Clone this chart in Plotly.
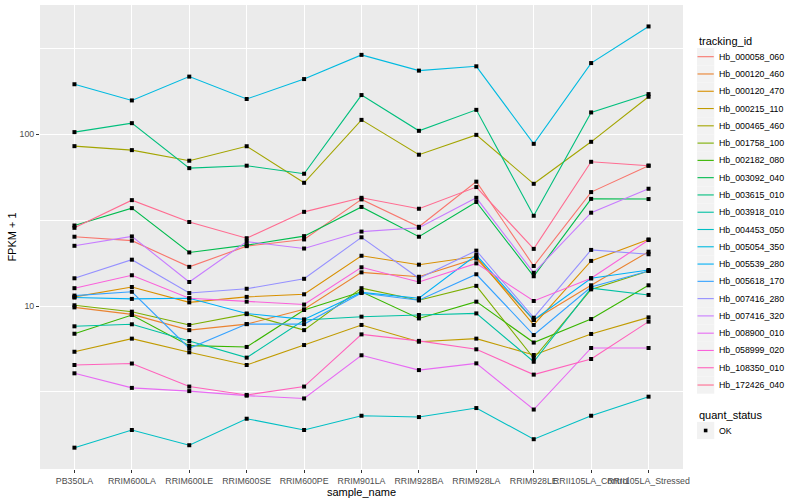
import plotly.graph_objects as go

samples = ["PB350LA", "RRIM600LA", "RRIM600LE", "RRIM600SE", "RRIM600PE", "RRIM901LA",
           "RRIM928BA", "RRIM928LA", "RRIM928LE", "RRII105LA_Control", "RRII105LA_Stressed"]

tracking_ids = ["Hb_000058_060", "Hb_000120_460", "Hb_000120_470", "Hb_000215_110", "Hb_000465_460",
                "Hb_001758_100", "Hb_002182_080", "Hb_003092_040", "Hb_003615_010", "Hb_003918_010",
                "Hb_004453_050", "Hb_005054_350", "Hb_005539_280", "Hb_005618_170", "Hb_007416_280",
                "Hb_007416_320", "Hb_008900_010", "Hb_058999_020", "Hb_108350_010", "Hb_172426_040"]

colors = ["#F8766D", "#EA8331", "#D89000", "#C09B00", "#A3A500", "#7CAE00", "#39B600", "#00BB4E",
          "#00BF7D", "#00C1A3", "#00BFC4", "#00BAE0", "#00B0F6", "#35A2FF", "#9590FF", "#C77CFF",
          "#E76BF3", "#FA62DB", "#FF62BC", "#FF6C91"]

Hb_000058_060 = [25.3, 24.0, 16.9, 22.3, 24.4, 41.7, 28.9, 52.9, 17.1, 46.0, 65.5]
Hb_000120_460 = [9.82, 8.94, 7.24, 7.85, 9.57, 15.7, 14.8, 18.9, 8.3, 13.2, 20.7]
Hb_000120_470 = [11.3, 12.9, 10.5, 11.3, 11.7, 19.6, 17.4, 19.4, 7.76, 18.3, 24.4]
Hb_000215_110 = [5.42, 6.46, 5.38, 4.54, 5.93, 7.76, 6.2, 6.46, 5.19, 6.88, 8.59]
Hb_000465_460 = [85.1, 80.7, 70.0, 85.0, 52.1, 121.0, 75.9, 99.0, 51.4, 90.2, 164.9]
Hb_001758_100 = [10.1, 9.27, 7.76, 8.97, 7.24, 12.7, 10.8, 13.1, 4.97, 12.5, 16.0]
Hb_002182_080 = [6.9, 8.87, 5.88, 5.78, 9.48, 12.1, 8.47, 10.6, 6.13, 8.4, 13.2]
Hb_003092_040 = [29.4, 37.1, 20.5, 22.6, 25.5, 37.7, 25.3, 40.3, 14.9, 42.0, 41.9]
Hb_003615_010 = [102.7, 115.8, 63.4, 65.5, 58.8, 168.7, 104.5, 138.4, 33.5, 133.7, 170.9]
Hb_003918_010 = [7.62, 7.83, 6.26, 5.01, 8.3, 8.67, 8.87, 9.06, 4.74, 12.7, 11.6]
Hb_004453_050 = [1.5, 1.9, 1.55, 2.21, 1.9, 2.3, 2.26, 2.55, 1.68, 2.3, 2.97]
Hb_005054_350 = [195.0, 157.0, 216.0, 160.0, 209.0, 289.0, 234.0, 248.0, 87.8, 259.0, 423.0]
Hb_005539_280 = [11.2, 11.0, 11.1, 9.05, 8.36, 12.0, 11.1, 19.8, 8.29, 14.5, 16.2]
Hb_005618_170 = [11.5, 12.1, 5.68, 7.85, 7.85, 11.9, 10.8, 15.3, 6.78, 12.9, 16.0]
Hb_007416_280 = [14.5, 18.6, 11.9, 12.6, 14.4, 25.1, 14.5, 21.0, 8.55, 21.2, 20.0]
Hb_007416_320 = [22.4, 25.4, 13.8, 23.7, 21.6, 27.1, 28.5, 42.6, 15.6, 34.9, 48.1]
Hb_008900_010 = [4.06, 3.34, 3.2, 3.01, 2.9, 5.17, 4.24, 4.64, 2.5, 5.7, 5.7]
Hb_058999_020 = [12.7, 15.1, 11.1, 10.6, 10.2, 16.8, 13.8, 17.7, 10.7, 14.5, 24.2]
Hb_108350_010 = [4.54, 4.63, 3.4, 3.04, 3.4, 6.84, 6.27, 5.6, 3.99, 4.92, 8.11]
Hb_172426_040 = [28.5, 41.3, 30.8, 24.8, 35.3, 42.6, 36.8, 49.2, 21.5, 69.0, 65.5]

series = [Hb_000058_060, Hb_000120_460, Hb_000120_470, Hb_000215_110, Hb_000465_460,
          Hb_001758_100, Hb_002182_080, Hb_003092_040, Hb_003615_010, Hb_003918_010,
          Hb_004453_050, Hb_005054_350, Hb_005539_280, Hb_005618_170, Hb_007416_280,
          Hb_007416_320, Hb_008900_010, Hb_058999_020, Hb_108350_010, Hb_172426_040]

y_ticks = [10, 100]
y_minor = [10 ** 0.5, 10 ** 1.5, 10 ** 2.5]

# pixel geometry of the panel
W, H = 800, 500
PL, PR, PT, PB = 40, 683, 5, 469
FONT = "Liberation Sans"


def px(x):
    return (x - PL) / (PR - PL)


def py(y):
    return (PB - y) / (PB - PT)


fig = go.Figure()
for tid, col, vals in zip(tracking_ids, colors, series):
    fig.add_trace(go.Scatter(x=samples, y=vals, mode="lines", name=tid,
                             line=dict(color=col, width=1.1), showlegend=False))

all_x = [s for vals in series for s in samples]
all_y = [v for vals in series for v in vals]
fig.add_trace(go.Scatter(x=all_x, y=all_y, mode="markers", name="OK",
                         marker=dict(symbol="square", size=4, color="black"), showlegend=False))

shapes = []
annotations = []

# manual ggplot-like legend: tracking_id
key = 17.28
lx0 = 697
ly_title = 41
ly0 = 56.7
annotations.append(dict(x=px(lx0), y=py(ly_title), xref="paper", yref="paper", text="tracking_id",
                        showarrow=False, xanchor="left", yanchor="middle",
                        font=dict(family=FONT, size=11, color="black")))
for i, (tid, col) in enumerate(zip(tracking_ids, colors)):
    cy = ly0 + i * key
    shapes.append(dict(type="rect", xref="paper", yref="paper", x0=px(lx0), x1=px(lx0 + key),
                       y0=py(cy - key / 2), y1=py(cy + key / 2), fillcolor="#F2F2F2",
                       line=dict(width=0), layer="below"))
    shapes.append(dict(type="line", xref="paper", yref="paper", x0=px(lx0 + 0.5), x1=px(lx0 + key - 0.5),
                       y0=py(cy), y1=py(cy), line=dict(color=col, width=1.1)))
    annotations.append(dict(x=px(lx0 + key + 3), y=py(cy), xref="paper", yref="paper", text=tid,
                            showarrow=False, xanchor="left", yanchor="middle",
                            font=dict(family=FONT, size=8.8, color="black")))

# quant_status legend
q_title = 414.5
q_key = 430.5
annotations.append(dict(x=px(lx0), y=py(q_title), xref="paper", yref="paper", text="quant_status",
                        showarrow=False, xanchor="left", yanchor="middle",
                        font=dict(family=FONT, size=11, color="black")))
shapes.append(dict(type="rect", xref="paper", yref="paper", x0=px(lx0), x1=px(lx0 + key),
                   y0=py(q_key - key / 2), y1=py(q_key + key / 2), fillcolor="#F2F2F2",
                   line=dict(width=0), layer="below"))
shapes.append(dict(type="rect", xref="paper", yref="paper", x0=px(lx0 + key / 2 - 1.8), x1=px(lx0 + key / 2 + 1.8),
                   y0=py(q_key - 1.8), y1=py(q_key + 1.8), fillcolor="black", line=dict(width=0)))
annotations.append(dict(x=px(lx0 + key + 3), y=py(q_key), xref="paper", yref="paper", text="OK",
                        showarrow=False, xanchor="left", yanchor="middle",
                        font=dict(family=FONT, size=8.8, color="black")))

fig.update_layout(
    width=W, height=H,
    margin=dict(l=PL, r=W - PR, t=PT, b=H - PB, pad=0, autoexpand=False),
    paper_bgcolor="white", plot_bgcolor="#EBEBEB",
    font=dict(family=FONT, size=11, color="black"),
    shapes=shapes, annotations=annotations,
    showlegend=False,
)
fig.update_xaxes(
    type="category", categoryorder="array", categoryarray=samples,
    range=[-0.6, len(samples) - 0.4],
    showgrid=True, gridcolor="white", gridwidth=1.3,
    ticks="outside", ticklen=3, tickcolor="#333333", tickwidth=1,
    tickangle=0, automargin=False,
    tickfont=dict(family=FONT, size=8.8, color="#4D4D4D"),
    title=dict(text="sample_name", font=dict(family=FONT, size=11, color="black"), standoff=0),
    zeroline=False, showline=False,
)
fig.update_yaxes(
    type="log", range=[0.052, 2.751], automargin=False,
    tickmode="array", tickvals=y_ticks, ticktext=[str(t) for t in y_ticks],
    showgrid=True, gridcolor="white", gridwidth=1.3,
    minor=dict(tickmode="array", tickvals=y_minor, showgrid=True, gridcolor="white", gridwidth=0.6, ticklen=0),
    ticks="outside", ticklen=3, tickcolor="#333333", tickwidth=1,
    tickfont=dict(family=FONT, size=8.8, color="#4D4D4D"),
    title=dict(text="FPKM + 1", font=dict(family=FONT, size=11, color="black"), standoff=0),
    zeroline=False, showline=False,
)

fig.write_html("out.html", config={"displayModeBar": False},
               post_script="document.body.style.margin='0';document.body.style.overflow='hidden';")
